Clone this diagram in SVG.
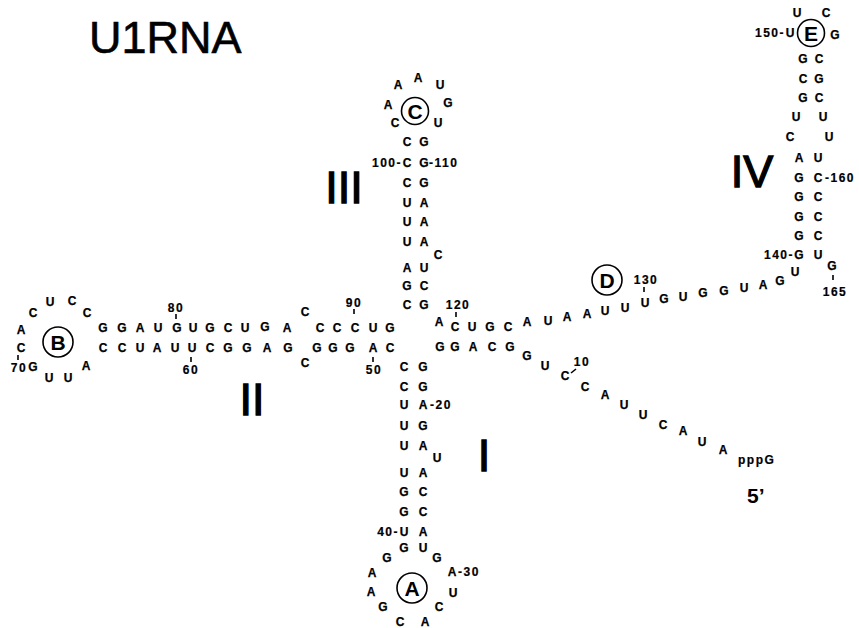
<svg xmlns="http://www.w3.org/2000/svg" width="859" height="628" viewBox="0 0 859 628">
<style>
text{font-family:"Liberation Sans",Arial,sans-serif;fill:#000}
.n{font-size:12px;font-weight:bold;text-anchor:middle;stroke:#000;stroke-width:0.25}
.ls,.le,.lm{font-size:12px;font-weight:bold;letter-spacing:1.5px;stroke:#000;stroke-width:0.2}
.ls{text-anchor:start}
.le{text-anchor:end}
.lm{text-anchor:middle}
.rn{font-size:45px;text-anchor:middle;stroke:#000;stroke-width:1.3}
.ct{font-size:21px;font-weight:bold;text-anchor:middle}
.loop{fill:none;stroke:#000;stroke-width:1.6}
.tk{stroke:#000;stroke-width:1.6}
</style>
<rect width="859" height="628" fill="#fff"/>
<text id="title" x="89" y="53" font-size="45" stroke="#000" stroke-width="0.6">U1RNA</text>
<g id="numerals">
<text class="rn" x="344" y="203">III</text>
<text class="rn" x="252" y="415">II</text>
<text class="rn" x="484" y="471">I</text>
<text class="rn" x="752" y="187">IV</text>
</g>
<g id="ticks">
<line class="tk" x1="176" y1="314" x2="176" y2="319"/>
<line class="tk" x1="354" y1="309" x2="354" y2="314"/>
<line class="tk" x1="191" y1="357" x2="191" y2="362"/>
<line class="tk" x1="373" y1="357" x2="373" y2="362"/>
<line class="tk" x1="18" y1="355" x2="18" y2="360"/>
<line class="tk" x1="456" y1="312" x2="456" y2="317"/>
<line class="tk" x1="644" y1="287" x2="644" y2="292"/>
<line class="tk" x1="833" y1="275" x2="833" y2="280"/>
<line class="tk" x1="571" y1="373" x2="576" y2="369"/>
</g>
<g id="helixII">
<text class="n" x="103" y="332">G</text><text class="n" x="122" y="332">G</text><text class="n" x="140" y="332">A</text><text class="n" x="158" y="332">U</text><text class="n" x="177" y="332">G</text><text class="n" x="193" y="332">U</text><text class="n" x="210" y="332">G</text><text class="n" x="228" y="332">C</text><text class="n" x="245" y="332">U</text><text class="n" x="265" y="331">G</text><text class="n" x="287" y="332">A</text><text class="n" x="305" y="316">C</text><text class="n" x="320" y="332">C</text><text class="n" x="337" y="332">C</text><text class="n" x="355" y="332">C</text><text class="n" x="373" y="332">U</text><text class="n" x="390" y="332">G</text>
<text class="n" x="103" y="352">C</text><text class="n" x="122" y="352">C</text><text class="n" x="140" y="352">U</text><text class="n" x="157" y="352">A</text><text class="n" x="175" y="352">U</text><text class="n" x="192" y="352">U</text><text class="n" x="210" y="352">C</text><text class="n" x="228" y="352">G</text><text class="n" x="247" y="352">G</text><text class="n" x="267" y="352">A</text><text class="n" x="288" y="352">G</text><text class="n" x="305" y="367">C</text><text class="n" x="317" y="352">G</text><text class="n" x="333" y="352">G</text><text class="n" x="350" y="352">G</text><text class="n" x="373" y="352">A</text><text class="n" x="390" y="352">C</text>
<text class="lm" x="176" y="312">80</text><text class="lm" x="354" y="307">90</text><text class="lm" x="191" y="374">60</text><text class="lm" x="374" y="374">50</text><text class="lm" x="19" y="372">70</text>
</g>
<g id="loopB">
<circle class="loop" cx="58" cy="342" r="15"/><text class="ct" x="58" y="349.5">B</text>
<text class="n" x="86" y="370">A</text><text class="n" x="68" y="382">U</text><text class="n" x="49" y="382">U</text><text class="n" x="33" y="371">G</text><text class="n" x="21" y="352">C</text><text class="n" x="21" y="334">A</text><text class="n" x="33" y="317">C</text><text class="n" x="50" y="306">U</text><text class="n" x="72" y="305">C</text><text class="n" x="87" y="317">C</text>
</g>
<g id="stemIII">
<text class="n" x="407" y="309">C</text><text class="n" x="407" y="290">G</text><text class="n" x="407" y="272">A</text><text class="n" x="407" y="246">U</text><text class="n" x="407" y="226">U</text><text class="n" x="407" y="207">U</text><text class="n" x="407" y="187">C</text><text class="n" x="407" y="167">C</text><text class="n" x="407" y="146">C</text>
<text class="n" x="424" y="146">G</text><text class="n" x="424" y="167">G</text><text class="n" x="424" y="187">G</text><text class="n" x="424" y="207">A</text><text class="n" x="424" y="226">A</text><text class="n" x="424" y="246">A</text><text class="n" x="438" y="259">C</text><text class="n" x="424" y="272">U</text><text class="n" x="424" y="290">C</text><text class="n" x="424" y="309">G</text>
<text class="le" x="402" y="167">100-</text><text class="ls" x="429" y="167">-110</text>
<text class="n" x="439" y="326">A</text>
</g>
<g id="loopC">
<circle class="loop" cx="415" cy="111" r="13.5"/><text class="ct" x="415" y="118.5">C</text>
<text class="n" x="395" y="127">C</text><text class="n" x="388" y="109">A</text><text class="n" x="398" y="89">A</text><text class="n" x="418" y="82">A</text><text class="n" x="440" y="89">U</text><text class="n" x="448" y="107">G</text><text class="n" x="438" y="127">U</text>
</g>
<g id="linkerD">
<text class="n" x="455" y="331">C</text><text class="n" x="472" y="331">U</text><text class="n" x="490" y="331">G</text><text class="n" x="508" y="331">C</text><text class="n" x="527" y="326">A</text><text class="n" x="548" y="325">U</text><text class="n" x="567" y="321">A</text><text class="n" x="587" y="318">A</text><text class="n" x="605" y="315">U</text><text class="n" x="625" y="312">U</text><text class="n" x="645" y="307">U</text><text class="n" x="664" y="303">G</text><text class="n" x="683" y="301">U</text><text class="n" x="703" y="297">G</text><text class="n" x="724" y="295">G</text><text class="n" x="744" y="292">U</text><text class="n" x="763" y="289">A</text><text class="n" x="780" y="285">G</text><text class="n" x="795" y="276">U</text>
<text class="lm" x="458" y="309">120</text><text class="lm" x="646" y="284">130</text>
<circle class="loop" cx="607" cy="280" r="15"/><text class="ct" x="607" y="287.5">D</text>
</g>
<g id="stemIV">
<text class="n" x="799" y="162">A</text><text class="n" x="799" y="182">G</text><text class="n" x="799" y="201">G</text><text class="n" x="799" y="221">G</text><text class="n" x="799" y="240">G</text><text class="n" x="799" y="259">G</text>
<text class="n" x="818" y="162">U</text><text class="n" x="818" y="182">C</text><text class="n" x="818" y="201">C</text><text class="n" x="818" y="221">C</text><text class="n" x="818" y="240">C</text><text class="n" x="818" y="259">U</text>
<text class="le" x="794" y="259">140-</text><text class="ls" x="825" y="182">-160</text>
<text class="n" x="832" y="270">G</text><text class="lm" x="835" y="296">165</text>
<text class="n" x="790" y="141">C</text><text class="n" x="829" y="141">U</text><text class="n" x="796" y="121">U</text><text class="n" x="823" y="121">U</text>
<text class="n" x="803" y="63">G</text><text class="n" x="803" y="83">C</text><text class="n" x="803" y="102">G</text>
<text class="n" x="819" y="63">C</text><text class="n" x="819" y="83">G</text><text class="n" x="819" y="102">C</text>
</g>
<g id="loopE">
<circle class="loop" cx="811" cy="33" r="13.5"/><text class="ct" x="811" y="40.5">E</text>
<text class="n" x="790" y="37">U</text><text class="le" x="785" y="37">150-</text><text class="n" x="797" y="17">U</text><text class="n" x="826" y="17">C</text><text class="n" x="835" y="39">G</text>
</g>
<g id="stemI">
<text class="n" x="404" y="371">C</text><text class="n" x="404" y="391">C</text><text class="n" x="404" y="409">U</text><text class="n" x="404" y="430">U</text><text class="n" x="404" y="450">U</text><text class="n" x="404" y="477">U</text><text class="n" x="404" y="496">G</text><text class="n" x="404" y="516">G</text><text class="n" x="404" y="536">U</text><text class="n" x="404" y="552">G</text>
<text class="n" x="423" y="371">G</text><text class="n" x="423" y="391">G</text><text class="n" x="423" y="409">A</text><text class="n" x="423" y="430">G</text><text class="n" x="423" y="450">A</text><text class="n" x="437" y="462">U</text><text class="n" x="423" y="477">A</text><text class="n" x="423" y="496">C</text><text class="n" x="423" y="516">C</text><text class="n" x="423" y="536">A</text><text class="n" x="423" y="552">U</text>
<text class="ls" x="430" y="409">-20</text><text class="le" x="399" y="536">40-</text>
</g>
<g id="loopA">
<circle class="loop" cx="412" cy="588" r="15"/><text class="ct" x="412" y="595.5">A</text>
<text class="n" x="387" y="562">G</text><text class="n" x="372" y="577">A</text><text class="n" x="371" y="596">A</text><text class="n" x="383" y="611">G</text><text class="n" x="400" y="626">C</text><text class="n" x="425" y="626">A</text><text class="n" x="439" y="611">C</text><text class="n" x="453" y="597">U</text><text class="n" x="452" y="576">A</text><text class="n" x="437" y="562">G</text>
<text class="ls" x="458" y="576">-30</text>
</g>
<g id="tail">
<text class="n" x="440" y="351">G</text><text class="n" x="455" y="351">G</text><text class="n" x="473" y="351">A</text><text class="n" x="492" y="351">C</text><text class="n" x="510" y="351">G</text>
<text class="n" x="527" y="360">G</text><text class="n" x="545" y="370">U</text><text class="n" x="565" y="380">C</text><text class="n" x="585" y="391">C</text><text class="n" x="605" y="399">A</text><text class="n" x="624" y="409">U</text><text class="n" x="643" y="419">U</text><text class="n" x="663" y="429">C</text><text class="n" x="683" y="435">A</text><text class="n" x="702" y="446">U</text><text class="n" x="723" y="454">A</text>
<text class="lm" x="582" y="366">10</text>
<text class="ls" x="738" y="464" letter-spacing="0.5">pppG</text>
<text x="747" y="503" font-size="21" font-weight="bold">5’</text>
</g>
</svg>
